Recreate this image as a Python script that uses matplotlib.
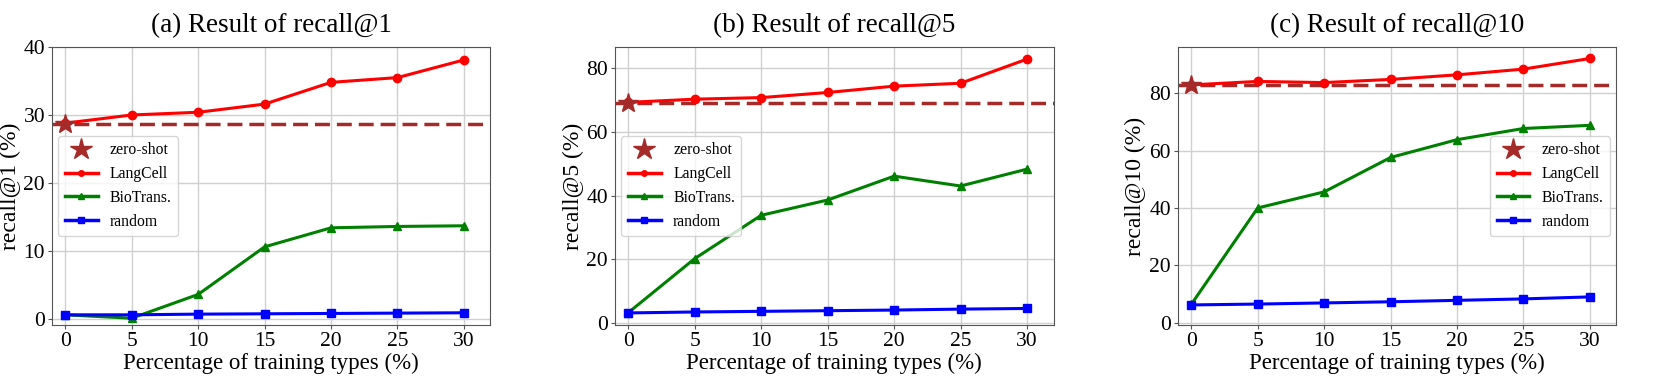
import matplotlib.pyplot as plt
import numpy as np

plt.rcParams['font.family'] = 'Liberation Serif'
plt.rcParams['mathtext.fontset'] = 'stix'

x = [0, 5, 10, 15, 20, 25, 30]

# recall@1
zs_1 = 28.7
lang_1 = [28.8, 30.0, 30.4, 31.6, 34.8, 35.5, 38.1]
bio_1 = [0.6, 0.1, 3.6, 10.6, 13.4, 13.6, 13.7]
rand_1 = [0.6, 0.6, 0.7, 0.75, 0.8, 0.85, 0.9]

# recall@5
zs_5 = 69.2
lang_5 = [69.3, 70.3, 70.8, 72.4, 74.4, 75.3, 82.9]
bio_5 = [3.2, 20.2, 33.8, 38.6, 46.1, 43.0, 48.3]
rand_5 = [3.1, 3.4, 3.6, 3.8, 4.0, 4.3, 4.5]

# recall@10
zs_10 = 82.8
lang_10 = [82.9, 84.1, 83.7, 84.8, 86.4, 88.4, 92.1]
bio_10 = [6.4, 40.0, 45.6, 57.6, 63.8, 67.7, 68.8]
rand_10 = [6.2, 6.5, 6.9, 7.3, 7.8, 8.3, 9.0]

panels = [
    ("(a) Result of recall@1", "recall@1 (%)", zs_1, lang_1, bio_1, rand_1, (-0.9, 40), [0, 10, 20, 30, 40], "center left"),
    ("(b) Result of recall@5", "recall@5 (%)", zs_5, lang_5, bio_5, rand_5, (-0.7, 86.7), [0, 20, 40, 60, 80], "center left"),
    ("(c) Result of recall@10", "recall@10 (%)", zs_10, lang_10, bio_10, rand_10, (-0.8, 96.1), [0, 20, 40, 60, 80], "center right"),
]
lefts = [0.0313, 0.3703, 0.7092]

fig = plt.figure(figsize=(16.61, 3.8), dpi=100)
for (title, ylab, zs, lang, bio, rnd, ylim, yt, loc), left in zip(panels, lefts):
    ax = fig.add_axes([left, 0.1447, 0.2640, 0.7316])
    ax.grid(True, color='#d0d0d0', linewidth=1)
    ax.set_axisbelow(True)
    ax.axhline(zs, color='brown', linestyle='--', linewidth=2.5, dashes=(4.3, 2), zorder=2)
    ax.plot([0], [zs], marker='*', color='brown', markersize=15, linestyle='None', label='zero-shot', zorder=5)
    ax.plot(x, lang, color='red', marker='o', markersize=6, linewidth=2.2, label='LangCell', zorder=3)
    ax.plot(x, bio, color='green', marker='^', markersize=6, linewidth=2.2, label='BioTrans.', zorder=3)
    ax.plot(x, rnd, color='blue', marker='s', markersize=6, linewidth=2.2, label='random', zorder=3)
    ax.set_xlim(-1, 32)
    ax.set_ylim(*ylim)
    ax.set_xticks(x)
    ax.set_yticks(yt)
    ax.tick_params(labelsize=15.5, length=3, pad=2, color='#555555')
    for s in ax.spines.values():
        s.set_color('#555555')
    ax.set_title(title, fontsize=19.5, pad=11)
    ax.set_ylabel(ylab, fontsize=17, labelpad=2)
    ax.set_xlabel("Percentage of training types (%)", fontsize=16.5, labelpad=1)
    leg = ax.legend(loc=loc, fontsize=11.3, handlelength=2.1, handletextpad=0.8,
                    borderpad=0.4, labelspacing=0.5, borderaxespad=0.4)
    hs = leg.legend_handles
    hs[0].set_markersize(16)
    for h in hs[1:]:
        h.set_markersize(4)
        h.set_linewidth(2.5)

fig.savefig("out.png", dpi=100)
